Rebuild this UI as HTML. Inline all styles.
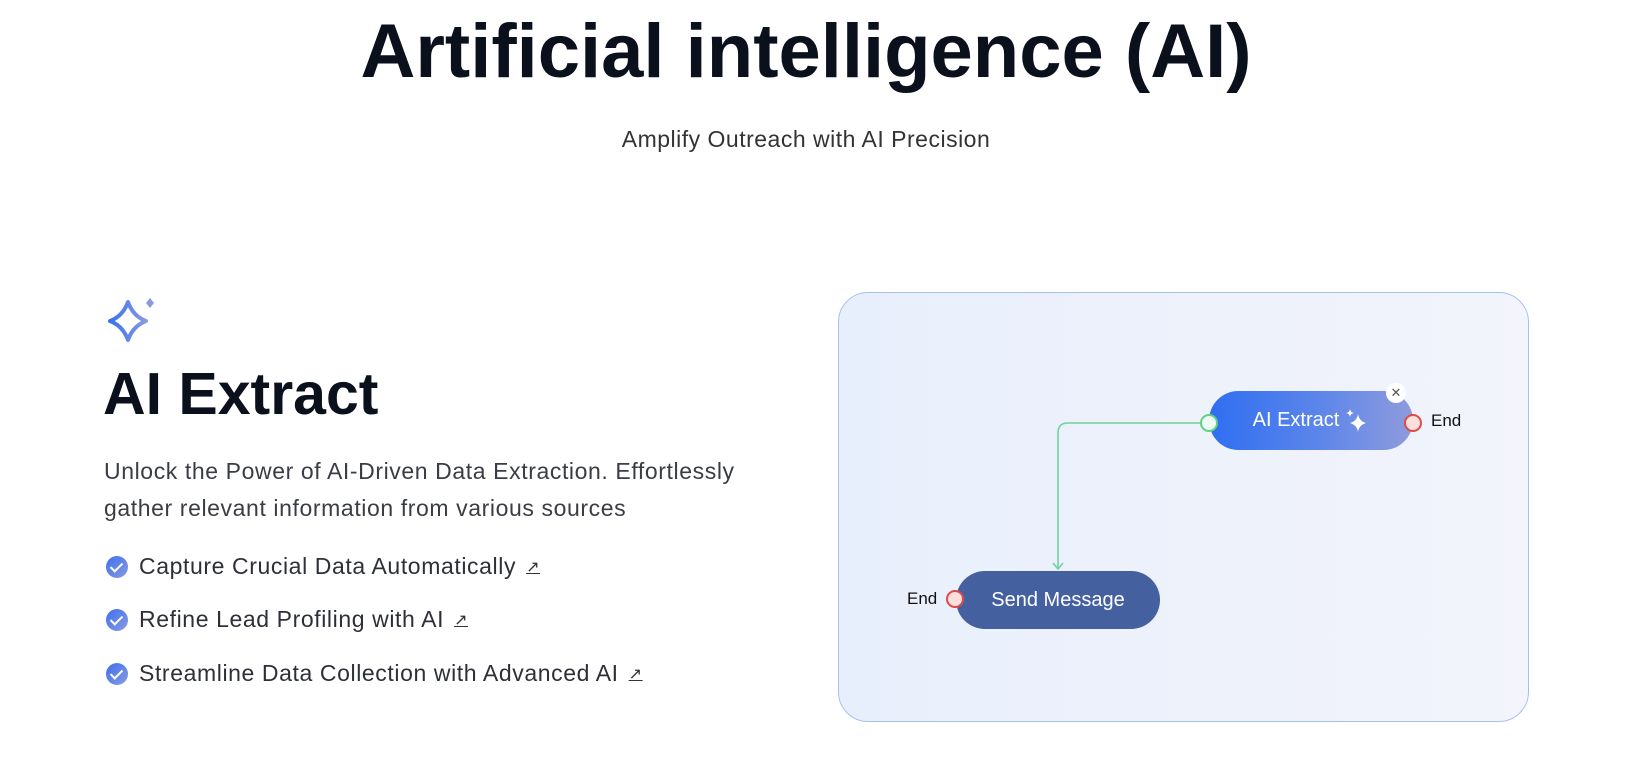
<!DOCTYPE html>
<html><head><meta charset="utf-8"><style>
*{margin:0;padding:0;box-sizing:border-box}
body{width:1632px;height:776px;background:#fff;position:relative;overflow:hidden;font-family:"Liberation Sans",sans-serif;color:#0b111e}
.a{position:absolute;white-space:nowrap}
h1{position:absolute;left:0;width:1612px;text-align:center;top:8px;font-size:76px;font-weight:bold;color:#0a101c}
.sub{left:0;width:1612px;text-align:center;top:126px;font-size:23px;letter-spacing:0.5px;color:#333}
.h2{left:103px;top:360px;font-size:59px;font-weight:bold;color:#0a101c}
.p{left:104px;font-size:23px;letter-spacing:0.6px;color:#3a3d44;line-height:37px}
.li{left:106px;font-size:23px;letter-spacing:0.6px;color:#2d3038;display:flex;align-items:center}
.chk{width:22px;height:22px;border-radius:50%;background:linear-gradient(135deg,#3d6ff0,#8a9be0);margin-right:11px;position:relative}
.chk:after{content:"";position:absolute;left:7px;top:4px;width:5px;height:10px;border:solid #fff;border-width:0 2px 2px 0;transform:rotate(45deg)}
.ar{font-size:16px;margin-left:10px;text-decoration:underline;color:#333}
.panel{left:838px;top:292px;width:691px;height:430px;border:1px solid #a9c0ee;border-radius:30px;background:linear-gradient(90deg,#e8effc,#eef2fb 60%,#f3f4fc)}
.n1{left:1209px;top:391px;width:204px;height:59px;border-radius:30px;background:linear-gradient(90deg,#2f6ef2,#5d86ea 55%,#8f9bdc);color:#fff;font-size:20px;display:flex;align-items:center;justify-content:center}
.n2{left:956px;top:571px;width:204px;height:58px;border-radius:29px;background:#44609f;color:#fff;font-size:20px;display:flex;align-items:center;justify-content:center}
.dot{width:18px;height:18px;border-radius:50%}
.g{background:#eefbf3;border:2px solid #5fd08a}
.r{background:#fde0dc;border:2px solid #e14a45}
.end{font-size:17px;color:#111}
</style></head><body>
<h1>Artificial intelligence (AI)</h1>
<div class="a sub">Amplify Outreach with AI Precision</div>

<svg class="a" style="left:104px;top:294px" width="56" height="54" viewBox="0 0 56 54">
<defs><linearGradient id="sg" x1="0" x2="1"><stop offset="0" stop-color="#3a72ee"/><stop offset="1" stop-color="#8a9ade"/></linearGradient></defs>
<path d="M24 8 Q29 22 42 27 Q29 32 24 46 Q19 32 6 27 Q19 22 24 8Z" fill="none" stroke="url(#sg)" stroke-width="4" stroke-linejoin="round"/>
<path d="M46 4 L50 9 L46 14 L42 9Z" fill="#8a9ade"/>
</svg>
<div class="a h2">AI Extract</div>
<div class="a p" style="top:453px">Unlock the Power of AI-Driven Data Extraction. Effortlessly<br>gather relevant information from various sources</div>
<div class="a li" style="top:553px"><span class="chk"></span>Capture Crucial Data Automatically<span class="ar">↗</span></div>
<div class="a li" style="top:606px"><span class="chk"></span>Refine Lead Profiling with AI<span class="ar">↗</span></div>
<div class="a li" style="top:660px"><span class="chk"></span>Streamline Data Collection with Advanced AI<span class="ar">↗</span></div>

<div class="a panel"></div>
<svg class="a" style="left:0;top:0" width="1632" height="776">
<path d="M1209 423 H1068 Q1058 423 1058 433 V568" fill="none" stroke="#6fd39a" stroke-width="1.6"/>
<path d="M1053 563 L1058 569 L1063 563" fill="none" stroke="#6fd39a" stroke-width="1.6"/>
</svg>
<div class="a n1">AI Extract <svg width="26" height="26" viewBox="0 0 26 26" style="margin-left:4px"><path d="M15 6 Q16 13 23 15 Q16 17 15 24 Q14 17 7 15 Q14 13 15 6Z" fill="#fff"/><path d="M7 1 Q7.5 4.5 11 5 Q7.5 5.5 7 9 Q6.5 5.5 3 5 Q6.5 4.5 7 1Z" fill="#fff"/></svg></div>
<div class="a dot g" style="left:1200px;top:414px"></div>
<div class="a dot r" style="left:1404px;top:414px"></div>
<div class="a" style="left:1386px;top:383px;width:20px;height:20px;border-radius:50%;background:#fff;font-size:13px;color:#555;text-align:center;line-height:20px">✕</div>
<div class="a end" style="left:1431px;top:411px">End</div>
<div class="a n2">Send Message</div>
<div class="a dot r" style="left:946px;top:590px"></div>
<div class="a end" style="left:907px;top:589px">End</div>
</body></html>
